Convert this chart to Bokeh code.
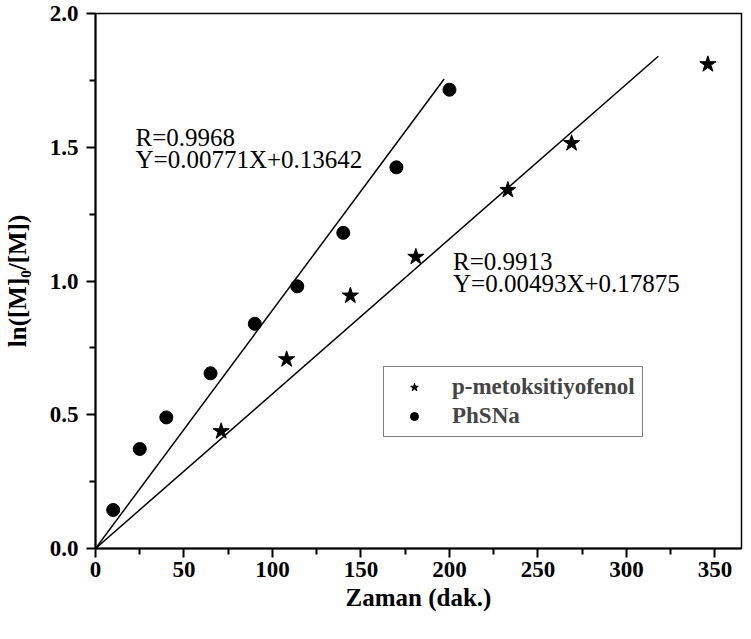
from bokeh.plotting import figure
from bokeh.models import Range1d, Label, Legend, LegendItem, FixedTicker, PrintfTickFormatter
from bokeh.embed import file_html
from bokeh.resources import INLINE

# Data
phsna_x = [10, 25, 40, 65, 90, 114, 140, 170, 200]
phsna_y = [0.144, 0.372, 0.49, 0.655, 0.84, 0.98, 1.18, 1.425, 1.715]
pmet_x = [71, 108, 144, 181, 233, 269, 346]
pmet_y = [0.438, 0.707, 0.945, 1.09, 1.34, 1.515, 1.81]
fit1_x = [0, 197]
fit1_y = [0, 1.755]
fit2_x = [0, 318]
fit2_y = [0, 1.84]
x_ticks = [0, 50, 100, 150, 200, 250, 300, 350]
y_ticks = [0.0, 0.5, 1.0, 1.5, 2.0]

FONT = "Liberation Serif"

p = figure(frame_width=646, frame_height=535, output_backend="svg", toolbar_location=None,
           x_range=Range1d(0, 365), y_range=Range1d(0, 2.0),
           min_border_left=5, min_border_right=2, min_border_top=13, min_border_bottom=5)
p.grid.visible = False
p.background_fill_color = "white"
p.border_fill_color = "white"
p.outline_line_color = "black"
p.outline_line_width = 1.5

for ax in (p.xaxis[0], p.yaxis[0]):
    ax.axis_line_width = 2
    ax.axis_line_color = "black"
    ax.major_tick_line_width = 2
    ax.minor_tick_line_width = 2
    ax.major_tick_out = 9
    ax.major_tick_in = 0
    ax.minor_tick_out = 6
    ax.minor_tick_in = 0
    ax.major_label_text_font = FONT
    ax.major_label_text_font_style = "bold"
    ax.major_label_text_font_size = "23px"
    ax.major_label_text_color = "black"
    ax.axis_label_text_font = FONT
    ax.axis_label_text_font_style = "bold"
    ax.axis_label_text_font_size = "25px"
    ax.axis_label_text_color = "black"

p.xaxis.ticker = FixedTicker(ticks=x_ticks, minor_ticks=[25, 75, 125, 175, 225, 275, 325])
p.yaxis.ticker = FixedTicker(ticks=y_ticks, minor_ticks=[0.25, 0.75, 1.25, 1.75])
p.yaxis.formatter = PrintfTickFormatter(format="%.1f")
p.xaxis.axis_label = "Zaman (dak.)"
p.yaxis.axis_label = "ln([M]\u2080/[M])"
p.xaxis.major_label_standoff = 4
p.yaxis.major_label_standoff = 8
p.xaxis.axis_label_standoff = 4
p.yaxis.axis_label_standoff = 16

p.line(fit1_x, fit1_y, line_color="black", line_width=1.5)
p.line(fit2_x, fit2_y, line_color="black", line_width=1.5)
c = p.scatter(phsna_x, phsna_y, marker="circle", size=13, fill_color="black", line_color="black")
s = p.scatter(pmet_x, pmet_y, marker="star", size=17, fill_color="black", line_color="black")

def lab(x, y, t):
    p.add_layout(Label(x=x, y=y, text=t, text_font=FONT, text_font_size="25px",
                       text_color="black", text_baseline="alphabetic", text_align="left"))

lab(22.6, 1.536, "R=0.9968")
lab(22.6, 1.455, "Y=0.00771X+0.13642")
lab(202, 1.072, "R=0.9913")
lab(202, 0.991, "Y=0.00493X+0.17875")

legend = Legend(items=[LegendItem(label="p-metoksitiyofenol", renderers=[s]),
                       LegendItem(label="PhSNa", renderers=[c])],
                location=(288, 111))
legend.label_text_font = FONT
legend.label_text_font_style = "bold"
legend.label_text_font_size = "23px"
legend.border_line_color = "black"
legend.border_line_width = 1.5
legend.padding = 7
legend.spacing = 3
legend.glyph_width = 46
legend.label_standoff = 15
legend.margin = 0
p.add_layout(legend, "center")

open("out.html", "w").write(file_html(p, INLINE))
